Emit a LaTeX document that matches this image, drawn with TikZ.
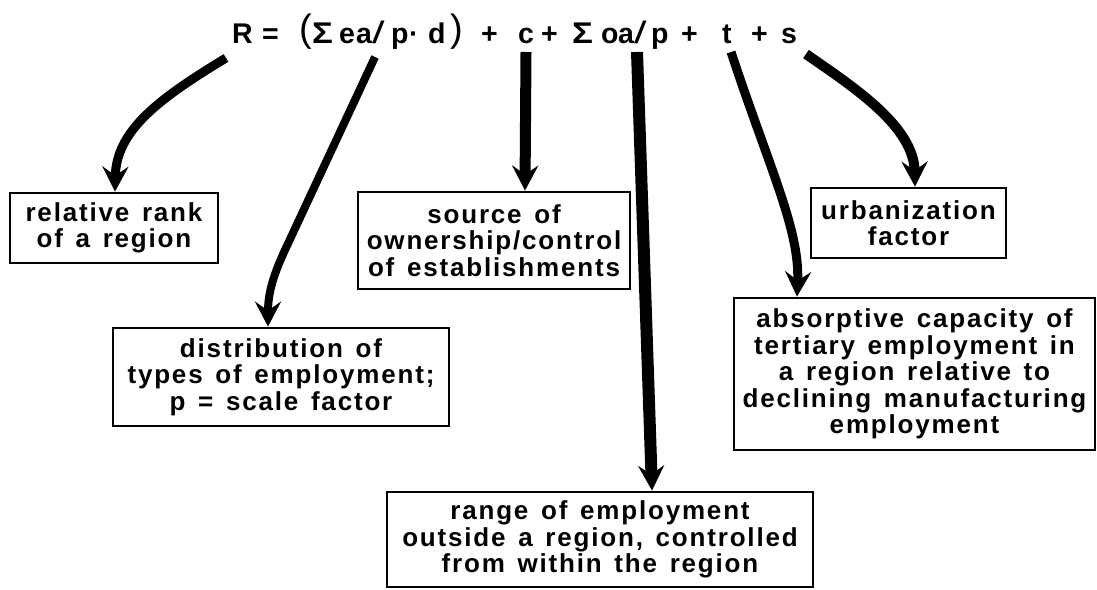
\documentclass[tikz,border=0pt]{standalone}
\usepackage{fontspec}
\usepackage{graphicx}
\setmainfont{Liberation Sans}
\newfontfamily\boxfont[LetterSpace=7,WordSpace=1.4]{Liberation Sans}
\newfontfamily\formfont{Liberation Sans}
\newcommand{\myslash}{{\mdseries\fontsize{31}{31}\selectfont\scalebox{1.45}[1]{/}}}
\usetikzlibrary{arrows.meta}
\begin{document}
\begin{tikzpicture}[x={(1pt,0pt)}, y={(0pt,-1pt)},
  tok/.style={anchor=base west, inner sep=0pt, font=\formfont\bfseries\fontsize{28.5}{30}\selectfont},
  par/.style={anchor=base west, inner sep=0pt, font=\formfont\fontsize{38}{40}\selectfont},
  lbox/.style={draw, line width=2.8pt, align=center, inner sep=0pt,
    font=\boxfont\bfseries\fontsize{26}{26.5}\selectfont},
  arr/.style={line width=#1, -{Stealth[length=25pt,width=26pt,inset=9pt]}}
]
\useasboundingbox (0,0) rectangle (1097,589);
% formula
\node[tok] (f1) at (232,43) {R};
\node[tok] (f2) at (262,43) {=};
\node[par] (f3) at (299,41) {(};
\node[tok] (f4) at (312,43) {\scalebox{1.22}[1.05]{Σ}};
\node[tok] (f5) at (339,43) {e};
\node[tok] (f6) at (356,43) {a};
\node[tok] (f7) at (372,43) {\myslash};
\node[tok] (f8) at (391,43) {p};
\node[tok] (f9) at (409,43) {·};
\node[tok] (f10) at (428,43) {d};
\node[par] (f11) at (450,41) {)};
\node[tok] (f12) at (481,43) {+};
\node[tok] (f13) at (518,43) {c};
\node[tok] (f14) at (541,43) {+};
\node[tok] (f15) at (572,43) {\scalebox{1.22}[1.05]{Σ}};
\node[tok] (f16) at (601,43) {o};
\node[tok] (f17) at (618,43) {a};
\node[tok] (f18) at (634,43) {\myslash};
\node[tok] (f19) at (651,43) {p};
\node[tok] (f20) at (681,43) {+};
\node[tok] (f21) at (722,43) {t};
\node[tok] (f22) at (751,43) {+};
\node[tok] (f23) at (781,43) {s};
% boxes
\node[lbox, minimum width=208pt, minimum height=70pt] (rank) at (114,228)
  {relative rank\\of a region};
\node[lbox, minimum width=336pt, minimum height=98pt] (dist) at (281,377)
  {distribution of\\types of employment;\\p = scale factor};
\node[lbox, minimum width=272pt, minimum height=97pt] (src) at (494,240.5)
  {source of\\ownership/control\\of establishments};
\node[lbox, minimum width=195pt, minimum height=70pt] (urb) at (908.5,223)
  {urbanization\\factor};
\node[lbox, minimum width=361pt, minimum height=152pt] (abs) at (914.5,374)
  {absorptive capacity of\\tertiary employment in\\a region relative to\\declining manufacturing\\employment};
\node[lbox, minimum width=426pt, minimum height=95pt] (rng) at (600,539.5)
  {range of employment\\outside a region, controlled\\from within the region};
% arrow starts
\coordinate (s1) at (226,58);
\coordinate (s2) at (375,57);
\coordinate (s3) at (526,52);
\coordinate (s4) at (637,52);
\coordinate (s5) at (731,52);
\coordinate (s6) at (806,54);
% arrows
\draw[arr=9pt] (s1) .. controls (160,98) and (116,130) .. ([xshift=1pt]rank.north);
\draw[arr=8pt] (s2) -- (285,250) .. controls (272,278) and (268,295) .. ([xshift=-13pt]dist.north);
\draw[arr=11pt] (s3) -- ([xshift=31pt]src.north);
\draw[arr=12pt] (s4) -- ([xshift=52pt]rng.north);
\draw[arr=9pt] (s5) .. controls (770,170) and (800,230) .. ([xshift=-117.5pt]abs.north);
\draw[arr=10pt] (s6) .. controls (850,85) and (914,125) .. ([xshift=6.5pt]urb.north);
\end{tikzpicture}
\end{document}
